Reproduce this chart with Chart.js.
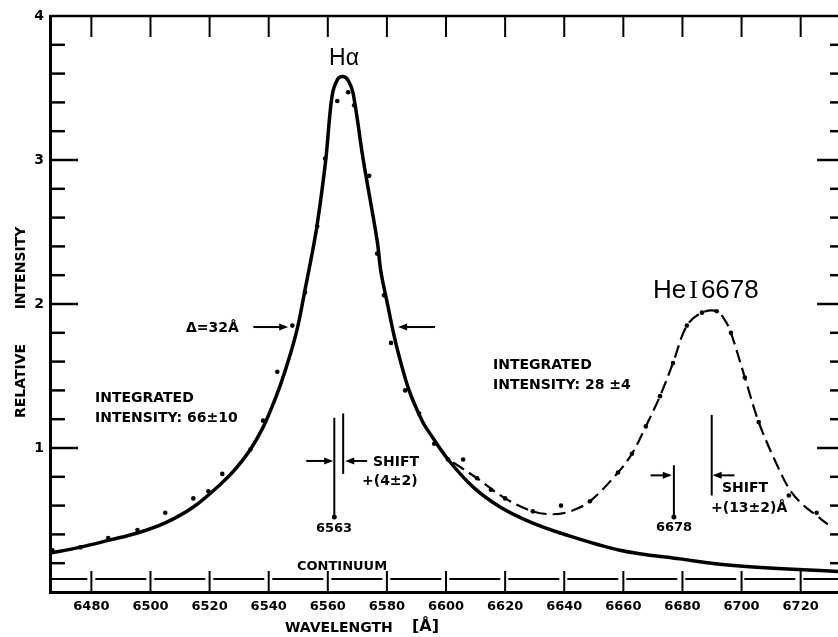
<!DOCTYPE html>
<html lang="en">
<head>
<meta charset="UTF-8">
<title>H-alpha / He I 6678 profile</title>
<script src="https://cdn.jsdelivr.net/npm/chart.js"></script>
<style>
  html, body { margin: 0; padding: 0; background: #fff; overflow: hidden; }
  canvas { display: block; }
</style>
</head>
<body>
<canvas id="perfil" width="850" height="637"></canvas>
<script>
// axis ticks
const xTicks = [6480, 6500, 6520, 6540, 6560, 6580, 6600, 6620, 6640, 6660, 6680, 6700, 6720];
const yTicks = [1, 2, 3, 4];
const yMinor = [0.2, 0.4, 0.6, 0.8, 1.2, 1.4, 1.6, 1.8, 2.2, 2.4, 2.6, 2.8, 3.2, 3.4, 3.6, 3.8];

// H alpha fitted profile (solid)
const haWave = [6466, 6476, 6486, 6495.6, 6505, 6514.5, 6524.3, 6529, 6533.8, 6538, 6541, 6544, 6547, 6549.8, 6552.3, 6554.5, 6556.4, 6559.3, 6561.4, 6563.3, 6565.2, 6567, 6568.6, 6572, 6576.7, 6578, 6580.4, 6582.1, 6584.1, 6587.5, 6591.9, 6594.6, 6600.7, 6609.1, 6618.3, 6628, 6638.6, 6658.8, 6679.1, 6699.4, 6735];
const haFit  = [0.27, 0.31, 0.36, 0.41, 0.48, 0.59, 0.76, 0.86, 0.99, 1.14, 1.28, 1.44, 1.63, 1.84, 2.10, 2.33, 2.55, 3.00, 3.44, 3.56, 3.58, 3.55, 3.46, 3.00, 2.44, 2.22, 1.98, 1.81, 1.64, 1.40, 1.19, 1.10, 0.92, 0.73, 0.59, 0.49, 0.41, 0.29, 0.23, 0.18, 0.14];

// He I 6678 profile (dashed)
const heWave = [6602.4, 6610.5, 6620, 6629.4, 6636.2, 6642, 6648.7, 6658.2, 6662.9, 6667.6, 6672.4, 6676.8, 6681.5, 6686.6, 6691.6, 6694.3, 6696.4, 6701.1, 6705.8, 6711.6, 6716.3, 6720.5, 6725.4, 6729.2];
const heFit  = [0.90, 0.79, 0.65, 0.56, 0.54, 0.56, 0.63, 0.83, 0.96, 1.15, 1.36, 1.59, 1.85, 1.94, 1.95, 1.89, 1.80, 1.49, 1.18, 0.90, 0.71, 0.61, 0.53, 0.47];

// measured points
const dotWave = [6466.8, 6476.3, 6485.7, 6495.6, 6505, 6514.5, 6519.6, 6524.3, 6533.8, 6538.1, 6542.9, 6548, 6552.3, 6556.4, 6559.1, 6563.2, 6566.9, 6568.9, 6574, 6576.7, 6579, 6581.4, 6586.2, 6590.9, 6596, 6600.7, 6605.8, 6610.5, 6615.2, 6620, 6629.4, 6638.9, 6648.7, 6658.2, 6662.9, 6667.6, 6672.4, 6676.8, 6681.5, 6686.6, 6691.6, 6696.4, 6701.1, 6705.8, 6716, 6725.4];
const dotInt  = [0.29, 0.31, 0.375, 0.43, 0.55, 0.65, 0.70, 0.82, 0.99, 1.19, 1.53, 1.85, 2.08, 2.54, 3.01, 3.41, 3.47, 3.38, 2.89, 2.35, 2.06, 1.73, 1.40, 1.24, 1.03, 0.92, 0.92, 0.79, 0.71, 0.65, 0.56, 0.60, 0.63, 0.83, 0.96, 1.15, 1.36, 1.59, 1.85, 1.94, 1.95, 1.80, 1.49, 1.18, 0.67, 0.55];

const continuum = 0.09;
const xRange = [6466, 6735];

// reference / shifted line markers and arrows (data units)
const markLines = [
  { x: 6562.2, y1: 1.21, y2: 0.52, dot: true },
  { x: 6565.2, y1: 1.24, y2: 0.82, dot: false },
  { x: 6677.1, y1: 0.88, y2: 0.52, dot: true },
  { x: 6689.9, y1: 1.23, y2: 0.67, dot: false }
];
const arrows = [
  { y: 1.84, from: 6534.8, to: 6546.6 },
  { y: 1.84, from: 6596.3, to: 6583.8 },
  { y: 0.91, from: 6552.7, to: 6561.8 },
  { y: 0.91, from: 6573.3, to: 6565.9 },
  { y: 0.81, from: 6669.2, to: 6676.4 },
  { y: 0.81, from: 6697.6, to: 6690.2 }
];

const pts = (xs, ys) => xs.map((v, i) => ({ x: v, y: ys[i] }));
const bold = s => `bold ${s}px "DejaVu Sans"`;

const moldura = {
  id: 'moldura',
  afterDraw(chart) {
    const { ctx, chartArea: a, scales: { x, y } } = chart;
    const seg = (x1, y1, x2, y2) => { ctx.beginPath(); ctx.moveTo(x1, y1); ctx.lineTo(x2, y2); ctx.stroke(); };
    ctx.save();
    ctx.strokeStyle = '#000';
    ctx.fillStyle = '#000';

    // top + right frame
    ctx.lineWidth = 2.5;
    ctx.beginPath();
    ctx.moveTo(a.left, a.top); ctx.lineTo(a.right, a.top); ctx.lineTo(a.right, a.bottom);
    ctx.stroke();

    // inward ticks
    ctx.lineWidth = 2;
    xTicks.forEach(v => {
      const px = x.getPixelForValue(v);
      seg(px, a.top, px, a.top + 21);
      seg(px, a.bottom, px, a.bottom - 21);
    });
    ctx.lineWidth = 2.5;
    yTicks.filter(v => v < 4).forEach(v => {
      const py = y.getPixelForValue(v);
      seg(a.left, py, a.left + 28, py);
      seg(a.right, py, a.right - 28, py);
    });
    yMinor.forEach(v => {
      const py = y.getPixelForValue(v);
      seg(a.left, py, a.left + 15, py);
      seg(a.right, py, a.right - 15, py);
    });

    // marker lines
    ctx.lineWidth = 2;
    markLines.forEach(m => {
      const px = x.getPixelForValue(m.x);
      const p1 = y.getPixelForValue(m.y1), p2 = y.getPixelForValue(m.y2);
      seg(px, p1, px, p2);
      if (m.dot) { ctx.beginPath(); ctx.arc(px, p2, 2.5, 0, Math.PI * 2); ctx.fill(); }
    });
    arrows.forEach(r => {
      const x1 = x.getPixelForValue(r.from), x2 = x.getPixelForValue(r.to), py = y.getPixelForValue(r.y);
      const dir = Math.sign(x2 - x1);
      seg(x1, py, x2 - dir * 6, py);
      ctx.beginPath();
      ctx.moveTo(x2, py); ctx.lineTo(x2 - dir * 9, py - 3.5); ctx.lineTo(x2 - dir * 9, py + 3.5);
      ctx.closePath(); ctx.fill();
    });

    // texts
    ctx.textBaseline = 'middle';
    ctx.textAlign = 'left';
    ctx.font = bold(14);
    ctx.fillText('Δ=32Å', 186, 328);
    ctx.fillText('INTEGRATED', 95, 398);
    ctx.fillText('INTENSITY: 66±10', 95, 418);
    ctx.fillText('INTEGRATED', 493, 365);
    ctx.fillText('INTENSITY: 28 ±4', 493, 385);
    ctx.fillText('SHIFT', 373, 462);
    ctx.fillText('+(4±2)', 362, 481);
    ctx.fillText('SHIFT', 722, 488);
    ctx.fillText('+(13±2)Å', 711, 508);
    ctx.font = bold(13);
    ctx.fillText('CONTINUUM', 297, 567);
    ctx.textAlign = 'center';
    ctx.fillText('6563', 334, 529);
    ctx.fillText('6678', 674, 528);

    // line names
    ctx.font = '23px "Liberation Sans"';
    ctx.fillText('Hα', 344, 59);
    ctx.textAlign = 'left';
    let hx = 653;
    ctx.font = '26px "Liberation Sans"';
    ctx.fillText('He', hx, 291);
    hx += ctx.measureText('He').width + 3;
    ctx.font = '26px "Liberation Serif"';
    ctx.fillText('I', hx, 291);
    hx += ctx.measureText('I').width + 3;
    ctx.font = '26px "Liberation Sans"';
    ctx.fillText('6678', hx, 291);

    // axis titles
    ctx.font = bold(14);
    ctx.fillText('WAVELENGTH', 285, 628);
    ctx.font = bold(16);
    ctx.fillText('[Å]', 412, 627);
    ctx.save();
    ctx.translate(21, 0);
    ctx.rotate(-Math.PI / 2);
    ctx.font = bold(14);
    ctx.textAlign = 'center';
    ctx.fillText('RELATIVE', -381, 0);
    ctx.fillText('INTENSITY', -268, 0);
    ctx.restore();

    ctx.restore();
  }
};

new Chart(document.getElementById('perfil'), {
  type: 'line',
  data: {
    datasets: [
      {
        label: 'points',
        type: 'scatter',
        data: pts(dotWave, dotInt),
        showLine: false,
        pointRadius: 2.3,
        pointBackgroundColor: '#000',
        pointBorderWidth: 0
      },
      {
        label: 'H alpha',
        data: pts(haWave, haFit),
        borderColor: '#000',
        borderWidth: 3.5,
        pointRadius: 0,
        tension: 0.35
      },
      {
        label: 'He I 6678',
        data: pts(heWave, heFit),
        borderColor: '#000',
        borderWidth: 2.2,
        borderDash: [13, 6],
        pointRadius: 0,
        tension: 0.35
      },
      {
        label: 'continuum',
        data: pts(xRange, [continuum, continuum]),
        borderColor: '#000',
        borderWidth: 2,
        borderDash: [51, 8],
        borderDashOffset: 13.7,
        pointRadius: 0
      }
    ]
  },
  options: {
    responsive: false,
    animation: false,
    events: [],
    layout: { padding: { top: 16, right: 5, left: 0, bottom: 0 } },
    plugins: { legend: { display: false }, tooltip: { enabled: false } },
    scales: {
      x: {
        type: 'linear',
        min: xRange[0],
        max: xRange[1],
        afterBuildTicks: s => { s.ticks = xTicks.map(v => ({ value: v })); },
        afterFit: s => { s.height = 45; },
        grid: { display: false, drawTicks: false },
        border: { display: true, color: '#000', width: 3 },
        ticks: {
          color: '#000',
          font: { family: 'DejaVu Sans', weight: 'bold', size: 13 },
          padding: 7, maxRotation: 0, autoSkip: false,
          callback: v => String(v)
        }
      },
      y: {
        min: 0,
        max: 4,
        afterBuildTicks: s => { s.ticks = yTicks.map(v => ({ value: v })); },
        afterFit: s => { s.width = 50; },
        grid: { display: false, drawTicks: false },
        border: { display: true, color: '#000', width: 3 },
        ticks: { color: '#000', font: { family: 'DejaVu Sans', weight: 'bold', size: 14 }, padding: 6 }
      }
    }
  },
  plugins: [moldura]
});
</script>
</body>
</html>
